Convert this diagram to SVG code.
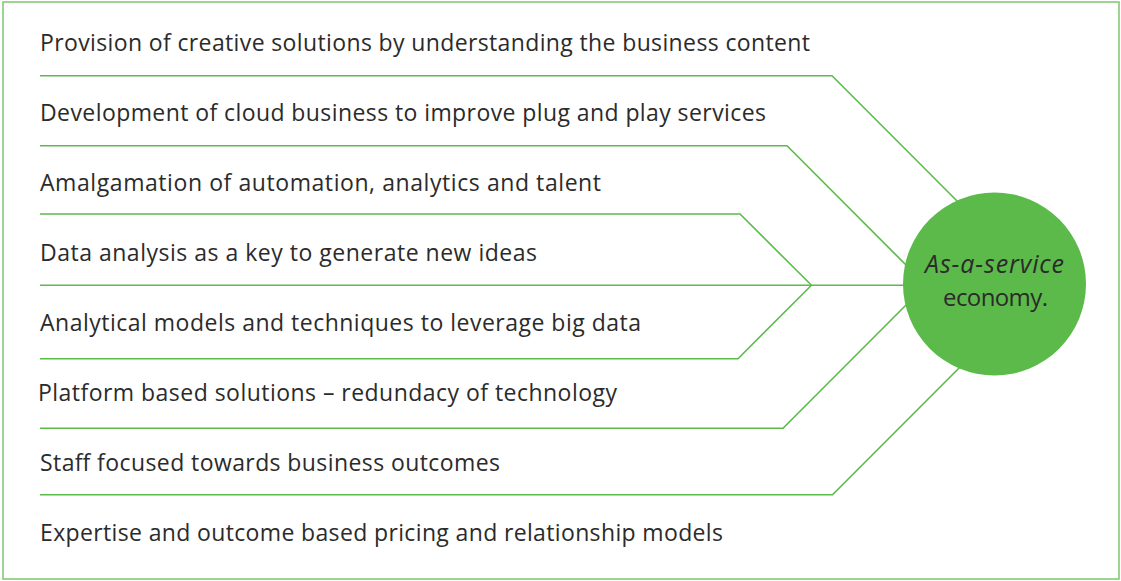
<svg xmlns="http://www.w3.org/2000/svg" width="1121" height="581" viewBox="0 0 1121 581">
<style>
.t{font-family:"Open Sans","Noto Sans","Liberation Sans",sans-serif;font-size:23px;fill:#2b2b2b}
.c{stroke:#5cba4b;stroke-width:1.6;fill:none;stroke-linejoin:miter}
</style>
<rect x="3" y="2" width="1116" height="577" fill="#ffffff" stroke="#86c97a" stroke-width="1.6"/>
<g id="connectors">
<polyline class="c" points="40,75.7 832,75.7 994,238"/>
<polyline class="c" points="40,145.7 787,145.7 925,284"/>
<polyline class="c" points="40,214 740,214 811.5,285.3"/>
<line class="c" x1="40" y1="285.3" x2="994" y2="285.3"/>
<polyline class="c" points="40,358.7 738,358.7 811.5,285.3"/>
<polyline class="c" points="40,428.3 783,428.3 925,286"/>
<polyline class="c" points="40,494.8 832.5,494.8 994,333"/>
</g>
<g id="n1"><text class="t" x="40" y="51" textLength="770">Provision of creative solutions by understanding the business content</text></g>
<g id="n2"><text class="t" x="40" y="121" textLength="726">Development of cloud business to improve plug and play services</text></g>
<g id="n3"><text class="t" x="40" y="191" textLength="561">Amalgamation of automation, analytics and talent</text></g>
<g id="n4"><text class="t" x="40" y="261" textLength="497">Data analysis as a key to generate new ideas</text></g>
<g id="n5"><text class="t" x="40" y="331" textLength="601">Analytical models and techniques to leverage big data</text></g>
<g id="n6"><text class="t" x="38" y="401" textLength="579">Platform based solutions – redundacy of technology</text></g>
<g id="n7"><text class="t" x="40" y="471" textLength="460">Staff focused towards business outcomes</text></g>
<g id="n8"><text class="t" x="40" y="541" textLength="683">Expertise and outcome based pricing and relationship models</text></g>
<g id="hub">
<circle cx="994.5" cy="284" r="91.5" fill="#5bba4a"/>
<text class="t" x="994.5" y="273" text-anchor="middle" style="font-style:italic;font-size:25px" textLength="139">As-a-service</text>
<text class="t" x="995.5" y="306" text-anchor="middle" style="font-size:24px" textLength="105">economy.</text>
</g>
</svg>
